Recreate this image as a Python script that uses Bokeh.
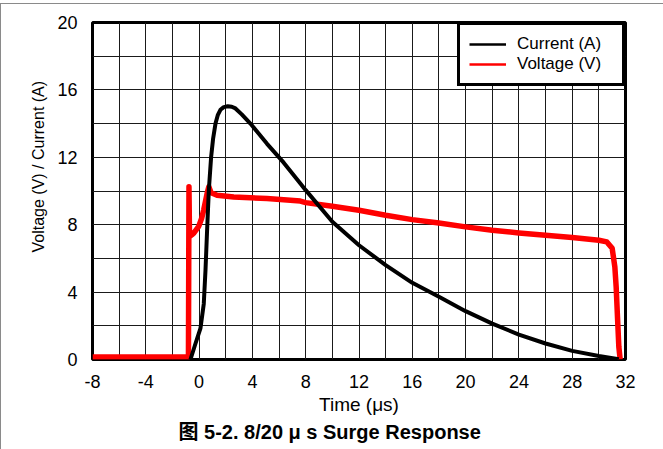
from bokeh.plotting import figure
from bokeh.models import Range1d, FixedTicker, Legend, LegendItem, Title
from bokeh.embed import file_html
from bokeh.resources import INLINE

# ---- data ----
current_t = [-0.65, -0.27, 0.1, 0.35, 0.48, 0.6, 0.73, 0.9, 1.05, 1.23, 1.4, 1.6, 1.85,
             2.15, 2.45, 2.73, 3.2, 3.85, 5.1, 6.35, 7.6, 8, 10, 12, 14, 16, 18, 20,
             22, 24, 26, 28, 30, 31.5]
current_a = [0.0, 0.95, 1.84, 3.3, 5.3, 7.67, 10.05, 12.0, 13.1, 14.0, 14.5, 14.82,
             14.98, 15.03, 15.0, 14.9, 14.55, 14.0, 12.8, 11.68, 10.45, 10.05, 8.17,
             6.78, 5.6, 4.55, 3.72, 2.87, 2.13, 1.48, 0.95, 0.51, 0.21, 0.02]

voltage_t = [-8, -6, -4, -2, -0.8, -0.76, -0.72, -0.55, -0.4, -0.03, 0.2, 0.35, 0.6,
             0.73, 0.9, 1.35, 2.6, 5.1, 7.6, 8, 10, 12, 14, 16, 18, 20, 22, 24, 26,
             28, 30, 30.6, 31.0, 31.2, 31.3, 31.4, 31.5, 31.6]
voltage_v = [0.15, 0.15, 0.15, 0.15, 0.15, 10.25, 7.3, 7.4, 7.5, 7.9, 8.4, 8.9, 9.85,
             10.25, 9.9, 9.75, 9.65, 9.55, 9.4, 9.31, 9.1, 8.86, 8.56, 8.3, 8.1, 7.87,
             7.67, 7.51, 7.38, 7.24, 7.08, 6.98, 6.6, 5.5, 4.3, 2.5, 0.75, 0.0]

x_ticks = [-8, -4, 0, 4, 8, 12, 16, 20, 24, 28, 32]
y_ticks = [0, 4, 8, 12, 16, 20]
x_grid = list(range(-8, 33, 2))
y_grid = list(range(0, 21, 2))

series_names = ["Current (A)", "Voltage (V)"]
x_label = "Time (μs)"
y_label = "Voltage (V) / Current (A)"
caption = "图 5-2. 8/20 μ s Surge Response"

FONT = "Liberation Sans, Noto Sans CJK SC"

p = figure(output_backend="svg", toolbar_location=None,
           frame_width=533, frame_height=337,
           x_range=Range1d(-8, 32), y_range=Range1d(0, 20),
           min_border_left=92, min_border_top=22, min_border_right=38,
           min_border_bottom=90)

# thin grey frame of the original picture (left and top edges)
p.border_fill_alpha = 0.0
p.styles = {
    "background": ("linear-gradient(#8a8a8a, #8a8a8a) 0 3px / 100% 1px no-repeat, "
                   "linear-gradient(#8a8a8a, #8a8a8a) 0 3px / 1px 100% no-repeat, "
                   "white"),
}
p.background_fill_color = "white"
p.outline_line_color = "black"
p.outline_line_width = 3

for ax in (p.xaxis, p.yaxis):
    ax.axis_line_color = None
    ax.major_tick_line_color = None
    ax.minor_tick_line_color = None
    ax.major_label_text_font = FONT
    ax.major_label_text_font_size = "18px"
    ax.major_label_text_color = "black"
    ax.major_label_standoff = 9

p.xaxis.ticker = FixedTicker(ticks=x_ticks)
p.yaxis.ticker = FixedTicker(ticks=y_ticks)
p.xaxis.major_label_overrides = {t: str(t) for t in x_ticks}
p.xgrid.ticker = FixedTicker(ticks=x_grid)
p.ygrid.ticker = FixedTicker(ticks=y_grid)
for g in (p.xgrid, p.ygrid):
    g.grid_line_color = "#1a1a1a"
    g.grid_line_width = 1

p.xaxis.axis_label = x_label
p.xaxis.axis_label_text_font = FONT
p.xaxis.axis_label_text_font_size = "19px"
p.xaxis.axis_label_text_font_style = "normal"
p.xaxis.axis_label_text_color = "black"
p.xaxis.axis_label_standoff = 3

p.add_layout(Title(text=y_label, align="left", offset=107,
                   text_font=FONT, text_font_size="16px", text_color="black",
                   text_font_style="normal", standoff=16), "left")
p.add_layout(Title(text=caption, align="left", offset=86,
                   text_font=FONT, text_font_size="20px", text_color="black",
                   text_font_style="bold", standoff=2), "below")

rv = p.line(voltage_t, voltage_v, line_color="#ff0000", line_width=5.5,
            line_join="round")
rc = p.line(current_t, current_a, line_color="black", line_width=4,
            line_join="round")

# thinner line samples for the legend (points lie outside the visible range)
lc = p.line([-100, -99], [-100, -100], line_color="black", line_width=2.5)
lv = p.line([-100, -99], [-100, -100], line_color="#ff0000", line_width=2.5)

legend = Legend(items=[LegendItem(label=series_names[0], renderers=[lc]),
                       LegendItem(label=series_names[1], renderers=[lv])],
                location="top_right", margin=0, padding=9, spacing=0,
                label_height=20, glyph_height=20, glyph_width=37,
                label_width=96, label_standoff=11, label_text_font=FONT,
                label_text_font_size="17px", label_text_color="black",
                border_line_color="black", border_line_width=3,
                border_line_alpha=1.0,
                background_fill_color="white", background_fill_alpha=1.0)
p.add_layout(legend, "center")

open("out.html", "w").write(file_html(p, INLINE))
